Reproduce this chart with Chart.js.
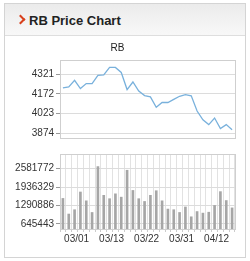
<!DOCTYPE html>
<html>
<head>
<meta charset="utf-8">
<script src="https://cdn.jsdelivr.net/npm/chart.js@4.4.0/dist/chart.umd.min.js"></script>
<style>
body { margin: 0; width: 250px; height: 261px; position: relative; background: #fff; font-family: "Liberation Sans", Arial, sans-serif; overflow: hidden; }
#panel { position: absolute; left: 4px; top: 3px; width: 240px; height: 253px; border: 1px solid #d4d4d4; }
#head { position: absolute; left: 0; top: 0; width: 240px; height: 31px; border-bottom: 1px solid #dedede;
  background: linear-gradient(#ebebeb, #f8f8f8); }
#head .arrow { position: absolute; left: 12px; top: 12px; width: 5px; height: 5px; border-top: 2px solid #d8401c; border-right: 2px solid #d8401c; transform: rotate(45deg); }
#head .txt { position: absolute; left: 24px; top: 9px; font-size: 13px; font-weight: bold; color: #222; }
canvas { position: absolute; left: 0; }
#c1 { top: 36px; }
#c2 { top: 146px; }
</style>
</head>
<body>
<div id="panel"><div id="head"><div class="arrow"></div><div class="txt">RB Price Chart</div></div></div>
<canvas id="c1" width="250" height="110"></canvas>
<canvas id="c2" width="250" height="115"></canvas>
<script>
var labels = ['', '', '03/01', '', '', '', '', '', '03/13', '', '', '', '', '', '03/22', '', '', '', '', '', '03/31', '', '', '', '', '', '04/12', '', '', ''];
var prices = [4216, 4223, 4273, 4211, 4249, 4249, 4311, 4314, 4371, 4371, 4333, 4204, 4261, 4192, 4158, 4149, 4070, 4106, 4106, 4130, 4153, 4166, 4156, 4042, 3975, 3939, 3989, 3910, 3939, 3901];
var volumes = [1536000, 987500, 1139000, 1762000, 1452000, 1042400, 2656000, 1646000, 1526500, 1697500, 1581000, 2527000, 1817000, 1526500, 1429600, 1646000, 1807000, 1452000, 1161800, 1139000, 1042400, 1236000, 890700, 1074700, 1020000, 1052000, 1290900, 1775000, 1462000, 1204000];
var priceTicks = [3874, 4023, 4172, 4321];
var volumeTicks = [645443, 1290886, 1936329, 2581772];

Chart.defaults.font.family = '"Liberation Sans", Arial, sans-serif';
Chart.defaults.font.size = 10;
Chart.defaults.color = '#333';

var plain = function(v){ return String(v); };

var boxBorder = {
	id: 'boxBorder',
	afterDraw: function(chart){
		var a = chart.chartArea, ctx = chart.ctx;
		ctx.save();
		ctx.strokeStyle = '#cfcfcf';
		ctx.lineWidth = 1;
		ctx.strokeRect(Math.round(a.left) + 0.5, Math.round(a.top) + 0.5, Math.round(a.right - a.left), Math.round(a.bottom - a.top));
		ctx.restore();
	}
};

new Chart(document.getElementById('c1'), {
	type: 'line',
	data: {
		labels: labels,
		datasets: [{ data: prices, borderColor: '#79b1dc', borderWidth: 1.3, pointRadius: 0, tension: 0, fill: false }]
	},
	options: {
		responsive: false, animation: false,
		layout: { padding: { right: 15, bottom: 4 } },
		plugins: {
			legend: { display: false }, tooltip: { enabled: false },
			title: { display: true, text: 'RB', color: '#222', font: { size: 10, weight: 'normal' }, padding: { top: 6, bottom: 6 } }
		},
		scales: {
			x: { offset: true, display: false },
			y: {
				min: 3838, max: 4427,
				afterFit: function(s){ s.width = 60; },
				afterBuildTicks: function(s){ s.ticks = priceTicks.map(function(v){ return { value: v }; }); },
				ticks: { padding: 2, color: '#333', callback: plain },
				border: { display: false },
				grid: { color: '#dcdcdc', borderDash: [3, 3], tickLength: 4, tickColor: '#999', tickBorderDash: [] }
			}
		}
	},
	plugins: [boxBorder]
});

new Chart(document.getElementById('c2'), {
	type: 'bar',
	data: {
		labels: labels,
		datasets: [{ data: volumes, backgroundColor: '#a6a6a6', barThickness: 2 }]
	},
	options: {
		responsive: false, animation: false,
		layout: { padding: { top: 1, right: 15 } },
		plugins: { legend: { display: false }, tooltip: { enabled: false } },
		scales: {
			x: {
				offset: true,
				afterFit: function(s){ s.height = 32; },
				ticks: { autoSkip: false, maxRotation: 0, padding: 1, labelOffset: 2, color: '#333' },
				border: { display: false },
				grid: { color: '#e2e2e2', borderDash: [1, 2], tickLength: 3, tickColor: '#ccc' }
			},
			y: {
				min: 461500, max: 3098000,
				afterFit: function(s){ s.width = 60; },
				afterBuildTicks: function(s){ s.ticks = volumeTicks.map(function(v){ return { value: v }; }); },
				ticks: { padding: 2, color: '#333', callback: plain },
				border: { display: false },
				grid: { color: '#dcdcdc', borderDash: [1, 2], tickLength: 4, tickColor: '#999', tickBorderDash: [] }
			}
		}
	},
	plugins: [boxBorder]
});
</script>
</body>
</html>
